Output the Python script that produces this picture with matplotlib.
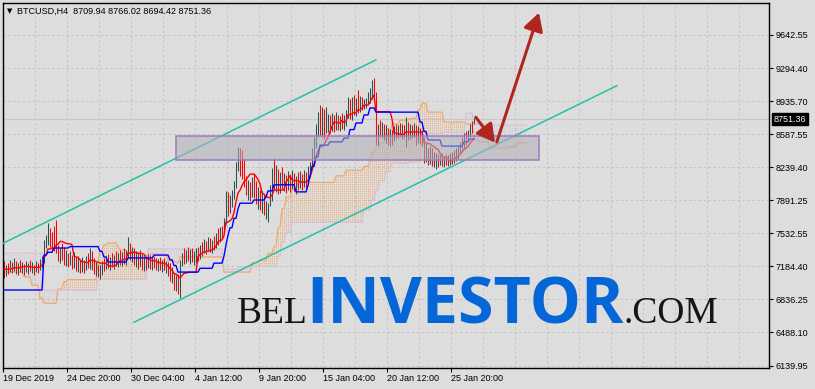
import numpy as np
import pandas as pd
import matplotlib
matplotlib.use("Agg")
import matplotlib.pyplot as plt
import matplotlib.transforms as mtransforms
from matplotlib.patches import Rectangle

plt.rcParams['font.family'] = ['Liberation Sans', 'DejaVu Sans']

# BTCUSD H4 bars, one entry per bar
highs = [
    # 19 Dec .. consolidation
    7250, 7200, 7230, 7260, 7240, 7280, 7250, 7230, 7260, 7240,
    7220, 7250, 7230, 7260, 7240, 7210, 7250, 7230, 7270, 7300,
    # spike
    7470, 7520, 7650, 7600, 7560, 7620, 7680,
    # range
    7420, 7380, 7440, 7400, 7360, 7330, 7350, 7310, 7340, 7290,
    7300, 7270, 7290, 7260, 7300, 7330, 7390, 7350, 7280, 7240,
    7210, 7200, 7250, 7280, 7300, 7320, 7290, 7330, 7310, 7350,
    7330, 7360, 7340, 7380, 7360, 7500,
    7440, 7400, 7380, 7350, 7330, 7360, 7320, 7300, 7290, 7320, 7310, 7290, 7300, 7280,
    # dip to the low
    7270, 7290, 7260, 7280, 7250, 7240, 7230, 7180, 7120, 7100, 7110, 7260,
    # recovery
    7330, 7380, 7360, 7400, 7370, 7390, 7350, 7380, 7400, 7420,
    7450, 7480, 7460, 7500, 7490, 7470, 7510, 7540, 7600, 7610,
    7620, 7700, 7990, 7980, 7950,
    8000, 8100, 8300, 8455, 8440, 8420, 8340,
    8150, 8110, 8080, 8140, 8180, 8100, 8030, 8000, 7990, 7950, 7880, 7860,
    8050, 8230, 8340, 8260, 8220, 8190, 8240, 8180, 8160, 8200,
    8170, 8210, 8180, 8150, 8190, 8200, 8170, 8210, 8190, 8250,
    # rally
    8300, 8450, 8560, 8700, 8830, 8900, 8880, 8860, 8880, 8810, 8790, 8820, 8800, 8830,
    8800, 8780, 8820, 8800, 8850, 8985, 8960, 8990, 9010, 8970,
    9060, 9000, 8990, 8960, 8980, 9040, 9080,
    9170, 9190, 9040,
    # pullback
    8700, 8740, 8720, 8700, 8690, 8660, 8650, 8640, 8680, 8700,
    8690, 8710, 8700, 8690, 8770, 8720, 8700, 8690, 8710, 8690,
    8680, 8660, 8640,
    8560, 8500, 8450, 8470, 8440, 8400, 8390, 8380, 8370, 8390,
    8360, 8380, 8370, 8390, 8400, 8420, 8450,
    8470, 8510, 8560, 8600, 8620, 8640, 8700, 8730, 8766.02,
]
lows = [
    7070, 7090, 7110, 7130, 7120, 7140, 7110, 7100, 7130, 7120,
    7100, 7130, 7110, 7140, 7120, 7100, 7130, 7120, 7150, 7170,
    7230, 7380, 7420, 7400, 7360, 7350, 7330,
    7250, 7230, 7260, 7210, 7190, 7180, 7200, 7160, 7170, 7140,
    7130, 7120, 7130, 7120, 7150, 7170, 7160, 7150, 7110, 7090,
    7080, 7060, 7100, 7140, 7160, 7170, 7150, 7180, 7160, 7190,
    7180, 7200, 7190, 7220, 7210, 7280,
    7260, 7240, 7210, 7180, 7160, 7190, 7150, 7140, 7150, 7170, 7160, 7150, 7170, 7150,
    7140, 7150, 7130, 7150, 7120, 7090, 7040, 7010, 6940, 6930, 6900, 6855,
    7190, 7220, 7230, 7250, 7220, 7240, 7210, 7230, 7250, 7270,
    7300, 7330, 7320, 7350, 7340, 7330, 7360, 7390, 7420, 7450,
    7480, 7540, 7640, 7720, 7760,
    7820, 7900, 8020, 8200, 8150, 8120, 8030,
    7950, 7890, 7880, 7930, 7910, 7850, 7800, 7790, 7760, 7730, 7690, 7660,
    7830, 7880, 8000, 7980, 7960, 7970, 8010, 7990, 7970, 8000,
    7980, 8010, 7990, 7960, 8000, 8020, 8000, 8030, 8020, 8050,
    8150, 8220, 8330, 8450, 8560, 8570, 8560, 8540, 8600, 8610, 8600, 8620, 8610, 8640,
    8640, 8630, 8650, 8640, 8680, 8760, 8750, 8740, 8790, 8780,
    8820, 8830, 8850, 8860, 8870, 8900, 8920,
    8960, 8980, 8476,
    8470, 8560, 8550, 8530, 8500, 8480, 8470, 8480, 8520, 8540,
    8550, 8560, 8540, 8550, 8460, 8530, 8540, 8550, 8560, 8480,
    8500, 8490, 8470,
    8290, 8300, 8270, 8280, 8250, 8240, 8220, 8240, 8260, 8250,
    8240, 8260, 8250, 8270, 8280, 8290, 8310,
    8330, 8390, 8420, 8450, 8480, 8520, 8560, 8600, 8694.42,
]
closes = [
    7120, 7180, 7150, 7220, 7160, 7200, 7140, 7190, 7170, 7210,
    7150, 7180, 7200, 7160, 7190, 7150, 7200, 7180, 7240, 7260,
    7450, 7480, 7600, 7440, 7420, 7390, 7380,
    7300, 7340, 7280, 7240, 7320, 7220, 7290, 7200, 7260, 7170,
    7240, 7150, 7230, 7160, 7270, 7200, 7360, 7190, 7150, 7200,
    7110, 7170, 7220, 7190, 7260, 7210, 7270, 7230, 7290, 7250,
    7310, 7270, 7330, 7290, 7340, 7400,
    7300, 7360, 7240, 7300, 7190, 7280, 7180, 7250, 7170, 7270, 7200, 7260, 7210, 7180,
    7230, 7180, 7240, 7170, 7200, 7110, 7060, 7070, 6980, 7020, 6940, 7200,
    7290, 7260, 7330, 7290, 7340, 7280, 7320, 7350, 7300, 7400,
    7360, 7450, 7380, 7470, 7400, 7450, 7420, 7510, 7470, 7560,
    7530, 7680, 7920, 7780, 7900,
    7960, 8050, 8260, 8380, 8200, 8160, 8060,
    8000, 8050, 7930, 8100, 7950, 7900, 7980, 7820, 7940, 7760, 7800, 7840,
    7990, 8180, 8080, 8200, 8010, 8150, 8060, 8120, 8020, 8160,
    8040, 8170, 8050, 8100, 8060, 8150, 8070, 8160, 8090, 8220,
    8280, 8400, 8520, 8650, 8790, 8700, 8820, 8620, 8660, 8760, 8650, 8780, 8680, 8750,
    8700, 8740, 8680, 8760, 8820, 8930, 8800, 8960, 8850, 8940,
    8890, 8970, 8900, 8930, 8950, 9000, 9050,
    9120, 9030, 8560,
    8640, 8600, 8680, 8560, 8620, 8510, 8580, 8500, 8630, 8600,
    8660, 8620, 8670, 8600, 8680, 8590, 8650, 8610, 8660, 8520,
    8600, 8530, 8560,
    8320, 8350, 8300, 8330, 8270, 8300, 8350, 8280, 8330, 8290,
    8320, 8300, 8340, 8320, 8370, 8350, 8420,
    8440, 8490, 8470, 8580, 8560, 8620, 8740, 8709.94, 8751.36,
]
first_open = 7200

# Kijun-sen (blue), step values: bar where a level starts, level
kijun_start = [0, 20, 22, 25, 33, 48, 50, 52, 62, 75, 83, 85, 87, 98, 105, 110, 111, 112, 113, 115,
               117, 118, 125, 131, 132, 135, 146, 152, 153, 154, 156, 158, 163, 170, 173, 176, 180, 183, 186, 208,
               210, 212, 219, 230, 233]
kijun_val = [6940, 7310, 7340, 7385, 7400, 7350, 7290, 7237, 7280, 7310, 7260, 7200, 7130, 7170, 7225, 7300, 7420, 7520, 7600, 7700,
             7800, 7860, 7894, 7925, 7990, 8055, 7980, 8050, 8150, 8250, 8350, 8476, 8510, 8550, 8640, 8710, 8795, 8870, 8825, 8720,
             8620, 8530, 8465, 8510, 8540]

# Kumo (Senkou span A / B), shifted forward, step values
cloud_len = 262
cloud_start = [0, 10, 14, 18, 20, 24, 27, 30, 32, 47, 48, 50, 52, 57, 58, 62, 68, 72, 82, 86,
               88, 110, 118, 124, 128, 132, 135, 137, 139, 141, 144, 147, 166, 171, 180, 183, 184, 186, 188, 191,
               194, 198, 203, 207, 209, 212, 220, 231, 235, 238, 243, 253, 257]
span_a = [7130, 7080, 6990, 6850, 6800, 6800, 6950, 7030, 7050, 7250, 7350, 7420, 7440, 7400, 7365, 7330, 7300, 7320, 7250, 7230,
          7290, 7130, 7130, 7230, 7260, 7330, 7400, 7600, 7800, 7925, 8000, 8080, 8150, 8210, 8250, 8330, 8400, 8450, 8500, 8600,
          8700, 8740, 8760, 8850, 8920, 8825, 8720, 8700, 8530, 8510, 8445, 8460, 8500]
span_b = [7330, 7330, 7330, 7330, 6940, 6940, 6940, 6940, 6940, 7055, 7055, 7055, 7055, 7055, 7055, 7055, 7055, 7375, 7375, 7375,
          7375, 7160, 7190, 7190, 7190, 7190, 7190, 7300, 7450, 7550, 7660, 7660, 7660, 7660, 7790, 7790, 7900, 8000, 8100, 8200,
          8285, 8285, 8300, 8310, 8600, 8600, 8610, 8815, 8700, 8700, 8690, 8690, 8690]

# axis texts
price_labels = ["6139.95", "6488.10", "6836.25", "7184.40", "7532.55", "7891.25",
                "8239.40", "8587.55", "8935.70", "9294.40", "9642.55"]
time_labels = ["19 Dec 2019", "24 Dec 20:00", "30 Dec 04:00", "4 Jan 12:00",
               "9 Jan 20:00", "15 Jan 04:00", "20 Jan 12:00", "25 Jan 20:00"]
last_price = 8751.36

# drawn objects: (bar, price)
channel_up = [(-0.5, 7435), (185.9, 9378)]
channel_down = [(65, 6598), (306.4, 9105)]
zone = [(86, 8315), (267.5, 8569)]
arrow_down = [(235.9, 8771), (245.5, 8502)]
arrow_up = [(246.4, 8509), (267.5, 9879)]


def steps(starts, vals, n):
    out = np.empty(n)
    ends = starts[1:] + [n]
    for s, e, v in zip(starts, ends, vals):
        out[s:e] = v
    return out


df = pd.DataFrame({'High': highs, 'Low': lows, 'Close': closes})
df['Open'] = df['Close'].shift(1).fillna(first_open)
df['Tenkan'] = (df['High'].rolling(9, min_periods=1).max() + df['Low'].rolling(9, min_periods=1).min()) / 2
df['Kijun'] = steps(kijun_start, kijun_val, len(df))
sa = steps(cloud_start, span_a, cloud_len)
sb = steps(cloud_start, span_b, cloud_len)
x = np.arange(len(df))
xc = np.arange(cloud_len)

BG = '#dddddd'
GRID = '#c3c3c3'
W, H = 815, 389
fig = plt.figure(figsize=(W / 100, H / 100), dpi=100, facecolor=BG)
ax = fig.add_axes([3 / W, (H - 367.5) / H, 766 / W, 364.5 / H])
ax.set_facecolor(BG)

ppx = (9642.55 - 6139.95) / (365.5 - 35)
ax.set_ylim(6139.95 - 2 * ppx, 6139.95 + 362.5 * ppx)
ax.set_xlim(-0.5, 382.5)

yt = np.linspace(6139.95, 9642.55, len(price_labels))
ax.yaxis.tick_right()
ax.set_yticks(yt)
ax.set_yticklabels(price_labels)
xt = -0.5 + 32 * np.arange(len(time_labels))
ax.set_xticks(xt)
ax.set_xticklabels(time_labels, ha='left')
ax.tick_params(axis='both', labelsize=6.5, length=3, width=0.8, color='black', labelcolor='black')
ax.tick_params(axis='y', pad=1.5)
ax.tick_params(axis='x', pad=2)
for s in ax.spines.values():
    s.set_color('black')
    s.set_linewidth(1)

# grid
for v in yt:
    ax.axhline(v, color=GRID, lw=0.7, ls=(0, (2.5, 2.5)), zorder=0.5)
for k in range(1, 24):
    ax.axvline(-0.5 + 16 * k, color=GRID, lw=0.7, ls=(0, (2.5, 2.5)), zorder=0.5)
ax.axhline(last_price, color='#c8c8c8', lw=0.9, zorder=0.6)

# Ichimoku cloud (dotted histogram between the spans)
cols = np.where(sa >= sb, '#f4a460', '#d8bfd8')
ax.vlines(xc, np.minimum(sa, sb), np.maximum(sa, sb), colors=cols, lw=0.6,
          linestyles=(0, (1.4, 1.4)), zorder=1)
ax.plot(xc, sa, color='#f4a460', lw=0.8, zorder=1.2)
ax.plot(xc, sb, color='#d8bfd8', lw=0.8, zorder=1.2)

# bars
up = df['Close'] >= df['Open']
bar_cols = np.where(up, '#2f4f4f', '#ff0000')
ax.vlines(x, df['Low'], df['High'], colors=bar_cols, lw=0.75, zorder=2)

ax.plot(x, df['Tenkan'], color='#ff0000', lw=1.0, zorder=3)
ax.plot(x, df['Kijun'], color='#0000ff', lw=1.0, zorder=3)

# channel
for ln in (channel_up, channel_down):
    ax.plot([p[0] for p in ln], [p[1] for p in ln], color='#24c1a5', lw=1.1, zorder=4)

# zone rectangle
(x0, y0), (x1, y1) = zone
ax.add_patch(Rectangle((x0, y0), x1 - x0, y1 - y0, fc=(177 / 255, 177 / 255, 185 / 255),
                       alpha=0.56, ec='none', zorder=5))
ax.add_patch(Rectangle((x0, y0), x1 - x0, y1 - y0, fill=False, ec='#9c7bbd', lw=1.1, zorder=5.1))

# arrows
for a in (arrow_down, arrow_up):
    ax.annotate('', xy=a[1], xytext=a[0],
                arrowprops=dict(arrowstyle='-|>,head_length=0.9,head_width=0.5', color='#b0261e',
                                lw=2.2, mutation_scale=12, shrinkA=0, shrinkB=0), zorder=6)

# last price tag
tr = mtransforms.blended_transform_factory(ax.transAxes, ax.transData)
ax.text(1.006, last_price, '8751.36', transform=tr, color='white', fontsize=6.5, va='center', ha='left',
        bbox=dict(fc='black', ec='black', pad=1.2), zorder=7, clip_on=False)

# header
fig.text(7 / W, 1 - 11 / H, '\u25bc', fontsize=5, family='DejaVu Sans', va='center', ha='left')
fig.text(17 / W, 1 - 11 / H, 'BTCUSD,H4  8709.94 8766.02 8694.42 8751.36', fontsize=6.5, va='center', ha='left')

# watermark
fig.text(237 / W, 1 - 323 / H, 'BEL', family='Liberation Serif', fontsize=27, color='#151515', va='baseline', zorder=8)
inv = fig.text(306 / W, 1 - 323 / H, 'INVESTOR', family='Open Sans', weight='bold', fontsize=46.5,
               color='#0567d7', va='baseline', zorder=8)
fig.canvas.draw()
inv_end = inv.get_window_extent().x1
fig.text(inv_end / W, 1 - 323 / H, '.COM', family='Liberation Serif', fontsize=27, color='#151515',
         va='baseline', zorder=8)

fig.savefig('out.png', dpi=100, facecolor=BG)
